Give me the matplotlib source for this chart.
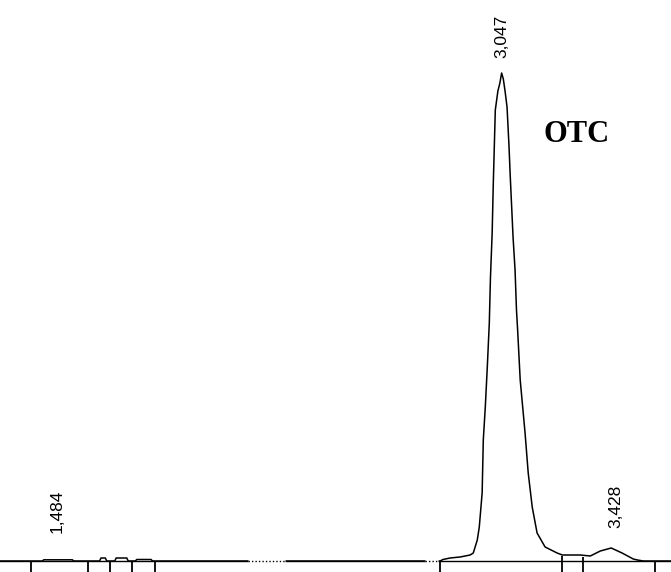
import numpy as np
import matplotlib
matplotlib.use("Agg")
import matplotlib.pyplot as plt

# retention time (min) and detector signal (arbitrary units)
time = [1.292, 1.440, 1.445, 1.545, 1.550, 1.640, 1.645, 1.660, 1.665, 1.693,
        1.698, 1.735, 1.740, 1.765, 1.770, 1.820, 1.825, 2.830, 2.840, 2.865,
        2.900, 2.935, 2.946, 2.960, 2.967, 2.977, 2.981, 2.988, 2.995, 3.002,
        3.006, 3.012, 3.016, 3.023, 3.032, 3.039, 3.045, 3.051, 3.057, 3.064,
        3.071, 3.075, 3.085, 3.092, 3.097, 3.101, 3.110, 3.127, 3.138, 3.152,
        3.169, 3.197, 3.239, 3.257, 3.320, 3.355, 3.390, 3.428, 3.466, 3.505,
        3.520, 3.540, 3.637]
signal = [0, 0, 1.2, 1.2, 0, 0, 3, 3, 0, 0,
          3, 3, 0, 0, 1.5, 1.5, 0, 0, 1.5, 3,
          4, 6, 8, 21, 34, 68, 121, 154, 194, 238,
          283, 328, 378, 451, 470, 478, 488, 482, 470, 454,
          414, 386, 324, 291, 251, 231, 181, 128, 88, 54,
          28, 14, 8, 6, 6, 5, 10, 13, 8, 2,
          1, 0, 0]

# peak labels
peak_labels = ["1,484", "3,047", "3,428"]
label_x = [1.492, 3.047, 3.445]
label_y = [28, 503, 33]

# integration event marks
event_times = [1.401, 1.600, 1.677, 1.754, 1.834, 2.830, 3.257, 3.330, 3.582]
event_tops = [0, 0, 0, 0, 0, 0, 5, 4, 0]

# dotted stretches of the baseline
dotted = [(2.159, 2.288), (2.778, 2.822)]

fig = plt.figure(figsize=(6.71, 5.72), dpi=100)
ax = fig.add_axes([0, 0, 1, 1])
ax.set_xlim(1.292, 3.637)
ax.set_ylim(-11, 561)
ax.axis("off")

ax.axhline(0, color="black", lw=1.0)
ax.plot(time, signal, color="black", lw=1.1)

for a, b in dotted:
    ax.hlines(0, a, b, color="white", lw=2.5)
    ax.hlines(0, a, b, color="black", lw=1.0, linestyles=(0, (1, 1.5)))

ax.vlines(event_times, -11, event_tops, color="black", lw=1.3)

for x, y, lab in zip(label_x, label_y, peak_labels):
    ax.text(x, y, lab, rotation=90, ha="center", va="bottom",
            fontsize=12.5, family="Liberation Sans")

ax.text(3.306, 427, "OTC", ha="center", va="center", fontsize=22,
        fontweight="bold", family="Liberation Serif")

fig.savefig("out.png", dpi=100)
